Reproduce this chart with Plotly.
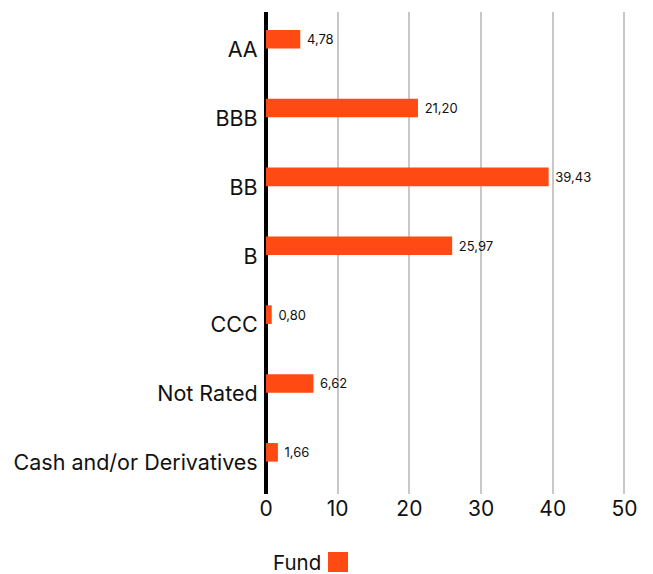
import plotly.graph_objects as go

categories = ["AA", "BBB", "BB", "B", "CCC", "Not Rated", "Cash and/or Derivatives"]
fund_values = [4.78, 21.20, 39.43, 25.97, 0.80, 6.62, 1.66]
x_ticks = [0, 10, 20, 30, 40, 50]
series_name = "Fund"

BAR = "#FF4A14"
FONT = "Inter, Roboto, sans-serif"

# page body adds an 8px margin, so the figure is 8px smaller than the window
PLOT_H = 566 - 4 - 80

fig = go.Figure()
fig.add_trace(go.Bar(
    y=categories, x=fund_values, orientation="h", name=series_name,
    marker=dict(color=BAR, line=dict(width=0)),
    width=0.27, offset=-0.24,
    texttemplate=" %{x:.2f}", textposition="outside",
    textfont=dict(size=13, color="#111111", family=FONT),
    cliponaxis=False, showlegend=False,
))

fig.update_layout(
    width=645, height=566,
    margin=dict(l=258, r=25, t=4, b=80, autoexpand=False),
    plot_bgcolor="white", paper_bgcolor="white",
    separators=",.",
    font=dict(family=FONT, color="#111111"),
    xaxis=dict(range=[0, 50.5], tickvals=x_ticks, showgrid=True,
               gridcolor="#c8c8c8", gridwidth=2,
               zeroline=True, zerolinecolor="#000000", zerolinewidth=4,
               tickfont=dict(size=21), ticks="", showline=False),
    yaxis=dict(autorange="reversed", tickfont=dict(size=21.5), ticks="outside",
               ticklen=3, tickcolor="rgba(0,0,0,0)", showgrid=False, showline=False,
               ticklabelshift=-3),
    showlegend=False,
)

fig.add_annotation(xref="paper", yref="paper", x=57 / 362, y=-68 / PLOT_H,
                   text=series_name, showarrow=False, xanchor="right", yanchor="middle",
                   font=dict(size=20.5, color="#111111", family=FONT))
fig.add_shape(type="rect", xref="paper", yref="paper",
              xsizemode="pixel", ysizemode="pixel",
              xanchor=0, yanchor=0, x0=62, x1=82, y0=-58, y1=-78,
              fillcolor=BAR, line=dict(width=0))

fig.write_html("out.html")
